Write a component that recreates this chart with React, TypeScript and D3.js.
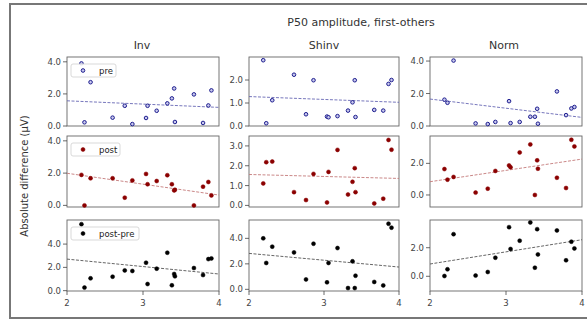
import React from "react";
import * as d3 from "d3";

// shared x values (same subjects in every panel)
const xVals = [2.19, 2.23, 2.31, 2.6, 2.76, 2.86, 3.04, 3.06, 3.18, 3.32, 3.38, 3.41, 3.42, 3.67, 3.79, 3.86, 3.9];

const colNames = ["Inv", "Shinv", "Norm"];
const rowNames = ["pre", "post", "post-pre"];

const invPre = [3.9, 0.23, 2.73, 0.52, 1.26, 0.12, 0.5, 1.26, 0.95, 1.41, 1.72, 2.34, 0.25, 1.97, 0.19, 1.28, 2.22];
const invPost = [1.89, 0.0, 1.68, 1.68, 0.48, 1.55, 1.95, 1.31, 1.51, 1.87, 1.31, 0.93, 0.97, 0.0, 1.16, 1.45, 0.62];
const invDiff = [5.71, 0.26, 1.06, 1.2, 1.74, 1.69, 2.4, 0.57, 1.89, 3.26, 0.46, 1.43, 1.23, 1.94, 1.34, 2.71, 2.77];

const shinvPre = [2.86, 0.12, 1.12, 2.23, 0.51, 1.99, 0.41, 0.38, 0.43, 0.67, 1.03, 1.99, 0.39, 0.7, 0.67, 1.83, 2.0];
const shinvPost = [1.11, 2.18, 2.21, 0.67, 0.27, 1.59, 0.15, 1.69, 2.8, 0.55, 1.19, 1.88, 0.67, 0.1, 0.34, 3.3, 2.81];
const shinvDiff = [4.0, 2.07, 3.35, 2.9, 0.78, 3.58, 0.55, 2.07, 3.24, 0.1, 2.2, 0.1, 1.07, 0.58, 0.31, 5.15, 4.84];

const normPre = [1.62, 1.43, 4.03, 0.16, 0.12, 0.25, 1.53, 0.18, 0.25, 0.57, 0.57, 1.06, 0.14, 2.13, 0.67, 1.08, 1.17];
const normPost = [1.64, 0.97, 1.14, 0.15, 0.4, 1.52, 1.87, 1.75, 2.69, 3.2, 0.0, 2.19, 1.66, 1.09, 0.44, 3.49, 3.07];
const normDiff = [0.02, 0.49, 2.95, 0.05, 0.3, 1.3, 3.44, 1.91, 2.49, 3.77, 0.6, 3.3, 1.53, 3.21, 1.12, 2.42, 1.95];

// [row][col]
const series = [
  [invPre, shinvPre, normPre],
  [invPost, shinvPost, normPost],
  [invDiff, shinvDiff, normDiff],
];

// dashed fit lines, value at x=2 and x=4
const fitAt2 = [
  [1.57, 1.28, 1.66],
  [1.99, 1.56, 0.84],
  [2.71, 2.82, 0.86],
];
const fitAt4 = [
  [1.16, 1.03, 0.53],
  [0.64, 1.36, 2.27],
  [1.43, 1.75, 2.56],
];

const yDomains = [
  [[0, 4.3], [0, 3.0], [0, 4.25]],
  [[-0.1, 4.3], [-0.08, 3.5], [-0.76, 3.73]],
  [[-0.03, 6.07], [-0.13, 5.44], [-1.03, 3.94]],
];
const yTicks = [
  [[0, 2, 4], [0, 1, 2], [0, 2, 4]],
  [[0, 2, 4], [0, 1, 2, 3], [0, 2]],
  [[0, 2, 4], [0, 2, 4], [0, 2]],
];
const xTicks = [2, 3, 4];

const colX = [[67, 219], [249, 399], [430, 582]];
const rowY = [[57, 126], [136, 207], [220, 291]];
const colTitleX = [142, 324, 504];

const rowStyle = [
  { stroke: "#1c1c8e", fill: "#c9c9ee", line: "#6868b4" },
  { stroke: "#8b0000", fill: "#8b0000", line: "#c47a7a" },
  { stroke: "#000", fill: "#000", line: "#555" },
];

const font = "DejaVu Sans, sans-serif";
const tickColor = "#444";

function Panel({ r, c }: { r: number; c: number }) {
  const [x0, x1] = colX[c];
  const [y0, y1] = rowY[r];
  const x = d3.scaleLinear().domain([2, 4]).range([x0, x1]);
  const y = d3.scaleLinear().domain(yDomains[r][c]).range([y1, y0]);
  const st = rowStyle[r];
  const pts = series[r][c];
  const legendW = [45, 49, 68][r];
  return (
    <g>
      <rect x={x0} y={y0} width={x1 - x0} height={y1 - y0} fill="#fff" stroke="#666" strokeWidth={0.9} />
      {yTicks[r][c].map((t) => (
        <g key={t}>
          <line x1={x0 - 4} x2={x0} y1={y(t)} y2={y(t)} stroke="#444" strokeWidth={0.8} />
          <text x={x0 - 6} y={y(t) + 3} textAnchor="end" fontSize={8.5} fill={tickColor} fontFamily={font}>
            {d3.format(".1f")(t)}
          </text>
        </g>
      ))}
      {r === 2 &&
        xTicks.map((t) => (
          <g key={t}>
            <line x1={x(t)} x2={x(t)} y1={y1} y2={y1 + 4} stroke="#444" strokeWidth={0.8} />
            <text x={x(t)} y={y1 + 15} textAnchor="middle" fontSize={8.5} fill={tickColor} fontFamily={font}>
              {t}
            </text>
          </g>
        ))}
      <line
        x1={x(2)}
        x2={x(4)}
        y1={y(fitAt2[r][c])}
        y2={y(fitAt4[r][c])}
        stroke={st.line}
        strokeWidth={0.9}
        strokeDasharray="3,1.5"
      />
      {pts.map((v, i) => (
        <circle
          key={i}
          cx={x(xVals[i])}
          cy={y(v)}
          r={r === 0 ? 1.8 : 2}
          fill={st.fill}
          stroke={st.stroke}
          strokeWidth={r === 0 ? 1 : 0.5}
        />
      ))}
      {c === 0 && (
        <g>
          <rect x={x0 + 4} y={y0 + 7} width={legendW} height={13} rx={2} fill="#fff" stroke="#ccc" strokeWidth={0.8} opacity={0.9} />
          <circle cx={x0 + 16} cy={y0 + 13.5} r={r === 0 ? 1.8 : 2} fill={st.fill} stroke={st.stroke} strokeWidth={r === 0 ? 1 : 0.5} />
          <text x={x0 + 32} y={y0 + 16.5} fontSize={8.5} fill="#222" fontFamily={font}>
            {rowNames[r]}
          </text>
        </g>
      )}
    </g>
  );
}

export default function App() {
  return (
    <svg width={587} height={320} style={{ position: "absolute", left: 0, top: 0, background: "#fff" }}>
      <rect x={10} y={4} width={600} height={314} fill="#fff" stroke="#777" strokeWidth={2} />
      <text x={361} y={26} textAnchor="middle" fontSize={11} fill="#333" fontFamily={font}>
        P50 amplitude, first-others
      </text>
      {colNames.map((n, c) => (
        <text key={n} x={colTitleX[c]} y={49} textAnchor="middle" fontSize={11} fill="#333" fontFamily={font}>
          {n}
        </text>
      ))}
      <text
        transform="translate(28,176) rotate(-90)"
        textAnchor="middle"
        fontSize={10}
        fill="#333"
        fontFamily={font}
      >
        Absolute difference (μV)
      </text>
      {rowNames.map((_, r) => colNames.map((__, c) => <Panel key={`${r}-${c}`} r={r} c={c} />))}
    </svg>
  );
}
